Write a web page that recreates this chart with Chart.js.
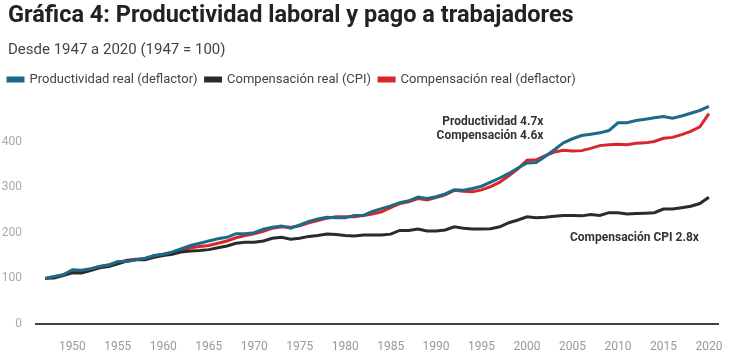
<!DOCTYPE html>
<html>
<head>
<meta charset="utf-8">
<script src="https://cdn.jsdelivr.net/npm/chart.js@4"></script>
<style>
  html, body { margin: 0; padding: 0; background: #fff; }
  #wrap { position: relative; width: 736px; height: 358px; font-family: Roboto, sans-serif; }
  #titulo { position: absolute; left: 8px; top: 3px; font-size: 23.5px; line-height: 1; font-weight: bold; color: #222; white-space: nowrap; }
  #subtitulo { position: absolute; left: 8px; top: 42px; font-size: 15px; line-height: 1; color: #444; white-space: nowrap; }
  canvas { position: absolute; left: 0; top: 0; }
</style>
</head>
<body>
<div id="wrap">
  <canvas id="lineChart-productividad" width="736" height="358"></canvas>
  <div id="titulo">Gráfica 4: Productividad laboral y pago a trabajadores</div>
  <div id="subtitulo">Desde 1947 a 2020 (1947 = 100)</div>
</div>
<script>
// years 1947 - 2020
const years = [];
for (let y = 1947; y <= 2020; y++) years.push(y);

const xTicks = [1950, 1955, 1960, 1965, 1970, 1975, 1980, 1985, 1990, 1995, 2000, 2005, 2010, 2015, 2020];
const yTicks = [0, 100, 200, 300, 400];

const seriesNames = ['Productividad real (deflactor)', 'Compensación real (CPI)', 'Compensación real (deflactor)'];

const productividad = [
  100, 104, 108, 119, 118, 121, 126, 129, 137, 137,
  141, 144, 150, 153, 158, 165, 172, 177, 182, 187,
  190, 198, 198, 200, 208, 212, 215, 210, 217, 225,
  230, 234, 233, 233, 238, 238, 247, 253, 259, 266,
  270, 278, 275, 279, 285, 294, 293, 297, 302, 311,
  320, 330, 342, 353, 354, 367, 382, 397, 406, 413,
  416, 419, 424, 441, 441, 446, 449, 452, 455, 451,
  456, 462, 468, 477
];
const compensacionCPI = [
  100, 101, 106, 112, 112, 117, 123, 126, 132, 138,
  141, 141, 146, 150, 153, 158, 160, 161, 163, 167,
  171, 177, 179, 179, 182, 188, 190, 186, 188, 192,
  194, 197, 196, 194, 193, 195, 195, 195, 197, 205,
  205, 208, 204, 204, 206, 213, 210, 208, 208, 209,
  213, 222, 228, 235, 233, 234, 236, 238, 238, 237,
  240, 238, 244, 244, 241, 242, 243, 244, 252, 252,
  255, 258, 264, 278
];
const compensacionDeflactor = [
  100, 103, 108, 115, 116, 120, 126, 130, 135, 140,
  142, 143, 149, 153, 156, 161, 167, 170, 172, 177,
  182, 189, 194, 198, 203, 210, 213, 212, 215, 222,
  227, 232, 235, 235, 235, 238, 241, 246, 255, 264,
  268, 275, 272, 277, 283, 293, 291, 290, 294, 301,
  311, 325, 340, 359, 360, 369, 377, 381, 379, 380,
  385, 391, 393, 394, 393, 396, 397, 400, 407, 409,
  415, 422, 432, 461
];

// annotations: [text, x (year), y (value)]
const notas = [
  ['Productividad 4.7x', 2001.8, 443],
  ['Compensación 4.6x', 2001.8, 413],
  ['Compensación CPI 2.8x', 2018.9, 189]
];

const colores = ['#1b6b87', '#2b2b2b', '#d9262b'];

function toPoints(arr) {
  return arr.map((v, i) => ({ x: years[i], y: v }));
}

// legend spacing below
const legendMargin = {
  id: 'legendMargin',
  beforeInit(chart) {
    const fit = chart.legend.fit;
    chart.legend.fit = function () {
      fit.bind(chart.legend)();
      this.height += 9;
    };
  }
};

// text labels next to the lines
const notasPlugin = {
  id: 'notas',
  afterDatasetsDraw(chart) {
    const ctx = chart.ctx;
    const xs = chart.scales.x, ys = chart.scales.y;
    ctx.save();
    ctx.font = 'bold 12px Roboto';
    ctx.fillStyle = '#333';
    ctx.textAlign = 'right';
    ctx.textBaseline = 'middle';
    notas.forEach(n => {
      ctx.fillText(n[0], xs.getPixelForValue(n[1]), ys.getPixelForValue(n[2]));
    });
    ctx.restore();
  }
};

let lineCtx = document.getElementById('lineChart-productividad');
let lineConfig = {
  type: 'line',
  data: {
    datasets: [{
      label: seriesNames[0],
      data: toPoints(productividad),
      borderColor: colores[0],
      backgroundColor: colores[0],
    }, {
      label: seriesNames[1],
      data: toPoints(compensacionCPI),
      borderColor: colores[1],
      backgroundColor: colores[1],
    }, {
      label: seriesNames[2],
      data: toPoints(compensacionDeflactor),
      borderColor: colores[2],
      backgroundColor: colores[2],
    }]
  },
  options: {
    responsive: false,
    animation: false,
    layout: { padding: { top: 65, left: 0, right: 18, bottom: 0 } },
    elements: {
      line: { borderWidth: 3, tension: 0 },
      point: { radius: 0, hoverRadius: 0 }
    },
    plugins: {
      tooltip: { enabled: false },
      legend: {
        position: 'top',
        align: 'start',
        labels: {
          boxWidth: 15,
          boxHeight: 3,
          padding: 8,
          color: '#444',
          font: { family: 'Roboto', size: 13 }
        }
      }
    },
    scales: {
      x: {
        type: 'linear',
        min: 1946,
        max: 2021,
        grid: { display: false },
        border: { display: true, color: '#444', width: 2 },
        afterBuildTicks(scale) { scale.ticks = xTicks.map(v => ({ value: v })); },
        afterFit(scale) { scale.height = 34; },
        ticks: {
          padding: 8,
          color: '#999',
          font: { family: 'Roboto', size: 12 },
          maxRotation: 0,
          callback: v => String(v)
        }
      },
      y: {
        min: 0,
        max: 480,
        grid: { display: false },
        border: { display: false },
        afterBuildTicks(scale) { scale.ticks = yTicks.map(v => ({ value: v })); },
        afterFit(scale) { scale.width = 36; },
        ticks: {
          padding: 6,
          color: '#aaa',
          font: { family: 'Roboto', size: 12 }
        }
      }
    }
  },
  plugins: [legendMargin, notasPlugin]
};
let lineChart = new Chart(lineCtx, lineConfig);
</script>
</body>
</html>
